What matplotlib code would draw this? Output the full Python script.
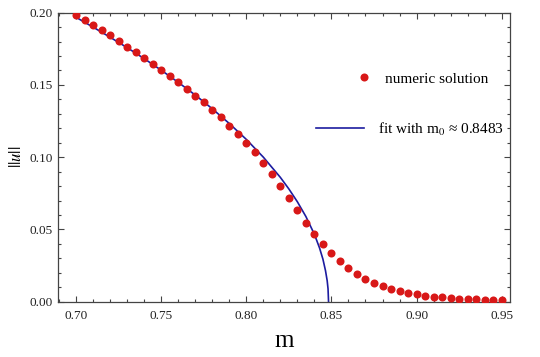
import matplotlib
matplotlib.use("Agg")
import numpy as np
from matplotlib import pyplot as plt
from matplotlib.ticker import MultipleLocator

# Numeric solution
m_num = [0.700, 0.705, 0.710, 0.715, 0.720, 0.725, 0.730, 0.735, 0.740, 0.745,
         0.750, 0.755, 0.760, 0.765, 0.770, 0.775, 0.780, 0.785, 0.790, 0.795,
         0.800, 0.805, 0.810, 0.815, 0.820, 0.825, 0.830, 0.835, 0.840, 0.845,
         0.850, 0.855, 0.860, 0.865, 0.870, 0.875, 0.880, 0.885, 0.890, 0.895,
         0.900, 0.905, 0.910, 0.915, 0.920, 0.925, 0.930, 0.935, 0.940, 0.945,
         0.950]
u_num = [0.1984, 0.1952, 0.1917, 0.1878, 0.1843, 0.1804, 0.1765, 0.1725, 0.1686, 0.1647,
         0.1603, 0.1562, 0.1518, 0.1472, 0.1426, 0.1379, 0.1326, 0.1276, 0.1218, 0.1160,
         0.1100, 0.1033, 0.0962, 0.0883, 0.0803, 0.0717, 0.0632, 0.0547, 0.0468, 0.0397,
         0.0334, 0.0279, 0.0231, 0.0191, 0.0159, 0.0131, 0.0106, 0.0090, 0.0074, 0.0060,
         0.0051, 0.0042, 0.0035, 0.0030, 0.0025, 0.0021, 0.0018, 0.0016, 0.0014, 0.0012,
         0.0009]

# Fit curve
m_fit = [0.700, 0.710, 0.720, 0.730, 0.740, 0.750, 0.760, 0.770, 0.780, 0.790,
         0.800, 0.810, 0.820, 0.825, 0.830, 0.835, 0.840, 0.843, 0.845, 0.8465,
         0.8475, 0.8480, 0.8483]
u_fit = [0.1968, 0.1900, 0.1830, 0.1758, 0.1682, 0.1602, 0.1518, 0.1430, 0.1335, 0.1233,
         0.1123, 0.1000, 0.0860, 0.0780, 0.0691, 0.0589, 0.0466, 0.0372, 0.0294, 0.0215,
         0.0145, 0.0089, 0.0]

plt.rcParams["font.family"] = ["Liberation Serif", "DejaVu Serif"]
plt.rcParams["mathtext.fontset"] = "stix"

fig = plt.figure(figsize=(5.4, 3.57), dpi=100)
ax = fig.add_axes([0.1065, 0.155, 0.838, 0.8095])

dots, = ax.plot(m_num, u_num, "o", color="#d81818", markersize=5.8, markeredgewidth=0,
                label="numeric solution", zorder=3)
fit, = ax.plot(m_fit, u_fit, "-", color="#1c1ca0", linewidth=1.2,
               label="fit with m$_0$ \u2248 0.8483", zorder=2)

ax.set_xlim(0.6891, 0.9549)
ax.set_ylim(0, 0.2)
ax.xaxis.set_major_locator(MultipleLocator(0.05))
ax.xaxis.set_minor_locator(MultipleLocator(0.01))
ax.yaxis.set_major_locator(MultipleLocator(0.05))
ax.yaxis.set_minor_locator(MultipleLocator(0.01))
ax.xaxis.set_major_formatter(plt.FormatStrFormatter("%.2f"))
ax.yaxis.set_major_formatter(plt.FormatStrFormatter("%.2f"))
ax.tick_params(which="both", direction="in", top=True, right=True,
               colors="#444444", labelcolor="#222222", labelsize=9.5, width=0.8)
ax.tick_params(which="major", length=4)
ax.tick_params(which="minor", length=2)
ax.tick_params(axis="x", pad=6)
for s in ax.spines.values():
    s.set_color("#444444")
    s.set_linewidth(0.9)

ax.set_xlabel("m", fontsize=18, labelpad=6)
ax.set_ylabel(r"$||u||$", fontsize=12, labelpad=3)

# two separate legend entries, placed like the original
leg1 = ax.legend(handles=[dots], loc="center left", bbox_to_anchor=(0.6605, 0.7706),
                 frameon=False, fontsize=11, borderpad=0, borderaxespad=0,
                 handlelength=1.0, handletextpad=0.87)
ax.add_artist(leg1)
ax.legend(handles=[fit], loc="center left", bbox_to_anchor=(0.571, 0.5976),
          frameon=False, fontsize=11, borderpad=0, borderaxespad=0,
          handlelength=3.14, handletextpad=0.9)

plt.savefig("out.png", dpi=100)
